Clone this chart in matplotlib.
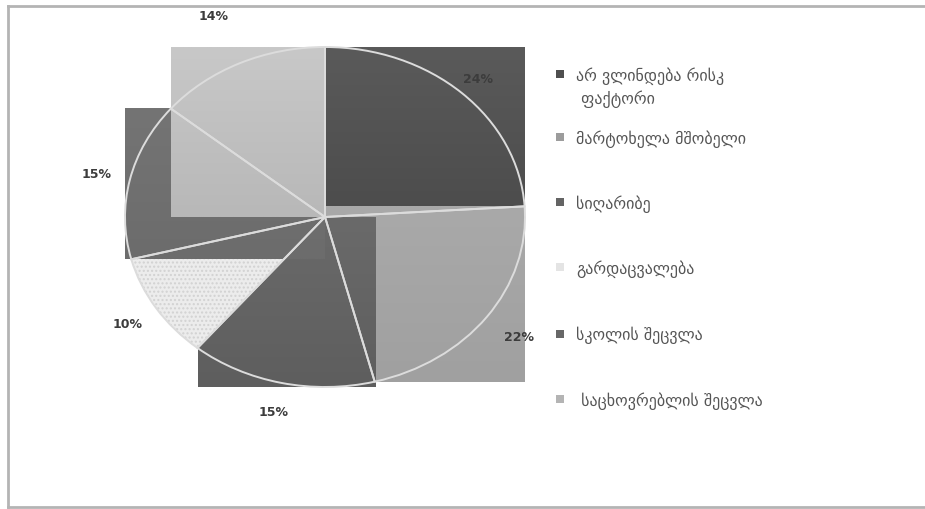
import matplotlib.pyplot as plt
import numpy as np
from matplotlib.colors import LinearSegmentedColormap
from matplotlib.lines import Line2D
from matplotlib.patches import PathPatch, Rectangle


# Chart data
categories = [
    "არ ვლინდება რისკ\n ფაქტორი",
    "მარტოხელა მშობელი",
    "სიღარიბე",
    "გარდაცვალება",
    "სკოლის შეცვლა",
    " საცხოვრებლის შეცვლა",
]
shares = [24, 22, 15, 10, 15, 14]

# Styling
swatch_colors = ["#4f4f4f", "#9c9c9c", "#646464", "#e4e4e4", "#676767", "#b4b4b4"]
fill_top = ["#5a5a5a", "#a9a9a9", "#6a6a6a", "#ececec", "#747474", "#c8c8c8"]
fill_bottom = ["#4c4c4c", "#a0a0a0", "#5e5e5e", "#ececec", "#6c6c6c", "#b8b8b8"]
label_distance = [1.12, 1.2, 1.17, 1.17, 1.17, 1.31]
legend_rows_px = [75, 138, 203, 268, 335, 400]

W, H = 925, 510
fig = plt.figure(figsize=(W / 100, H / 100), dpi=100)
fig.patch.set_facecolor("white")

# Outer chart frame (top, left and bottom edges show in the source)
frame = dict(transform=fig.transFigure, color="#b4b4b4", linewidth=2)
fig.add_artist(Line2D([8 / W, 1], [1 - 7 / H, 1 - 7 / H], **frame))
fig.add_artist(Line2D([8 / W, 8 / W], [1 - 7 / H, 1 - 508 / H], **frame))
fig.add_artist(Line2D([8 / W, 1], [1 - 508 / H, 1 - 508 / H], **frame))

# Pie area (slightly flattened ellipse like the source)
cx, cy, rx, ry = 325, 218, 200, 170
ax = fig.add_axes([(cx - rx) / W, 1 - (cy + ry) / H, 2 * rx / W, 2 * ry / H])
wedges, _ = ax.pie(shares, startangle=90, counterclock=False,
                   wedgeprops=dict(facecolor="none", edgecolor="#dcdcdc",
                                   linewidth=1.4, zorder=10))

# Each slice is painted as a gradient box over the slice's bounding box
for i, wedge in enumerate(wedges):
    ext = wedge.get_path().get_extents()
    if shares[i] == 10:
        ax.add_patch(PathPatch(wedge.get_path(), facecolor=fill_top[i],
                               edgecolor="#d2d2d2", linewidth=0,
                               hatch="....", zorder=i + 1))
        continue
    cmap = LinearSegmentedColormap.from_list(f"g{i}", [fill_bottom[i], fill_top[i]])
    grad = np.linspace(0, 1, 64).reshape(-1, 1)
    ax.imshow(grad, cmap=cmap, origin="lower", aspect="auto",
              extent=(ext.x0, ext.x1, ext.y0, ext.y1),
              interpolation="bilinear", zorder=i + 1)

# Percentage labels
for i, wedge in enumerate(wedges):
    mid = np.deg2rad((wedge.theta1 + wedge.theta2) / 2)
    r = label_distance[i]
    ax.text(r * np.cos(mid), r * np.sin(mid), f"{shares[i]}%",
            ha="center", va="center", fontsize=9, color="#3c3c3c",
            fontweight="bold", zorder=12, clip_on=False)

ax.set_aspect("auto")
ax.set_xlim(-1, 1)
ax.set_ylim(-1, 1)
ax.axis("off")

# Legend drawn by hand to keep the source spacing
for label, color, row in zip(categories, swatch_colors, legend_rows_px):
    fig.add_artist(Rectangle((556 / W, 1 - (row + 4) / H), 8 / W, 8 / H,
                             transform=fig.transFigure, facecolor=color,
                             edgecolor="none"))
    fig.text(576 / W, 1 - (row - 8) / H, label, ha="left", va="top",
             fontsize=11.5, color="#555555", linespacing=1.4,
             family="DejaVu Sans")

fig.savefig("out.png", dpi=100)
